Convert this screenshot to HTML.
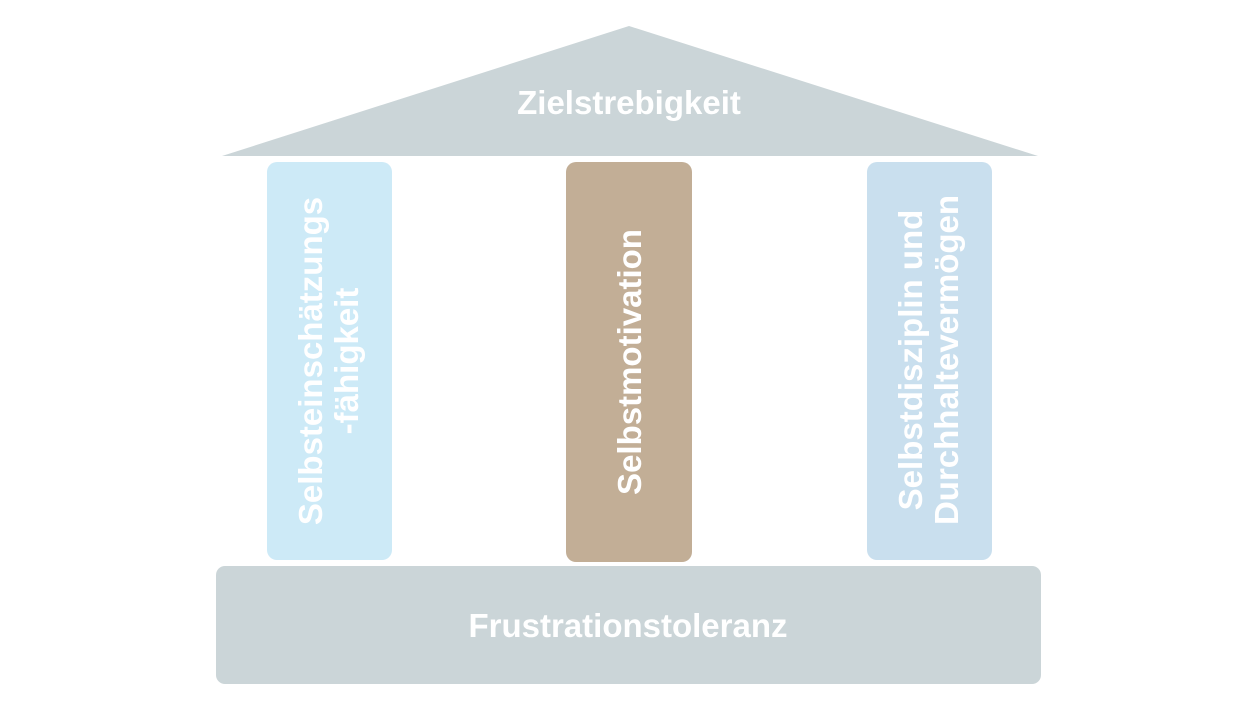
<!DOCTYPE html>
<html><head><style>body{margin:0;background:#fff}</style></head><body>
<svg width="1258" height="708" xmlns="http://www.w3.org/2000/svg" style="display:block">
<g font-family="Liberation Sans, sans-serif" font-weight="bold" fill="#fff" text-anchor="middle">
<polygon points="629,26 222,156 1038,156" fill="#cbd5d8"/>
<text x="629" y="114" font-size="33" fill="#fff">Zielstrebigkeit</text>
<rect x="267" y="162" width="125" height="398" rx="10" fill="#cdeaf7"/>
<rect x="566" y="162" width="126" height="400" rx="10" fill="#c2ae96"/>
<rect x="867" y="162" width="125" height="398" rx="10" fill="#c9dfee"/>
<rect x="216" y="566" width="825" height="118" rx="9" fill="#cbd5d8"/>
<text x="628" y="637" font-size="33">Frustrationstoleranz</text>
<text transform="translate(641,362) rotate(-90)" font-size="33">Selbstmotivation</text>
<text transform="translate(322,361) rotate(-90)" font-size="33">Selbsteinschätzungs</text>
<text transform="translate(358,361) rotate(-90)" font-size="33">-fähigkeit</text>
<text transform="translate(922,360) rotate(-90)" font-size="33">Selbstdisziplin und</text>
<text transform="translate(958,360) rotate(-90)" font-size="33">Durchhaltevermögen</text>
</g>
</svg>
</body></html>
